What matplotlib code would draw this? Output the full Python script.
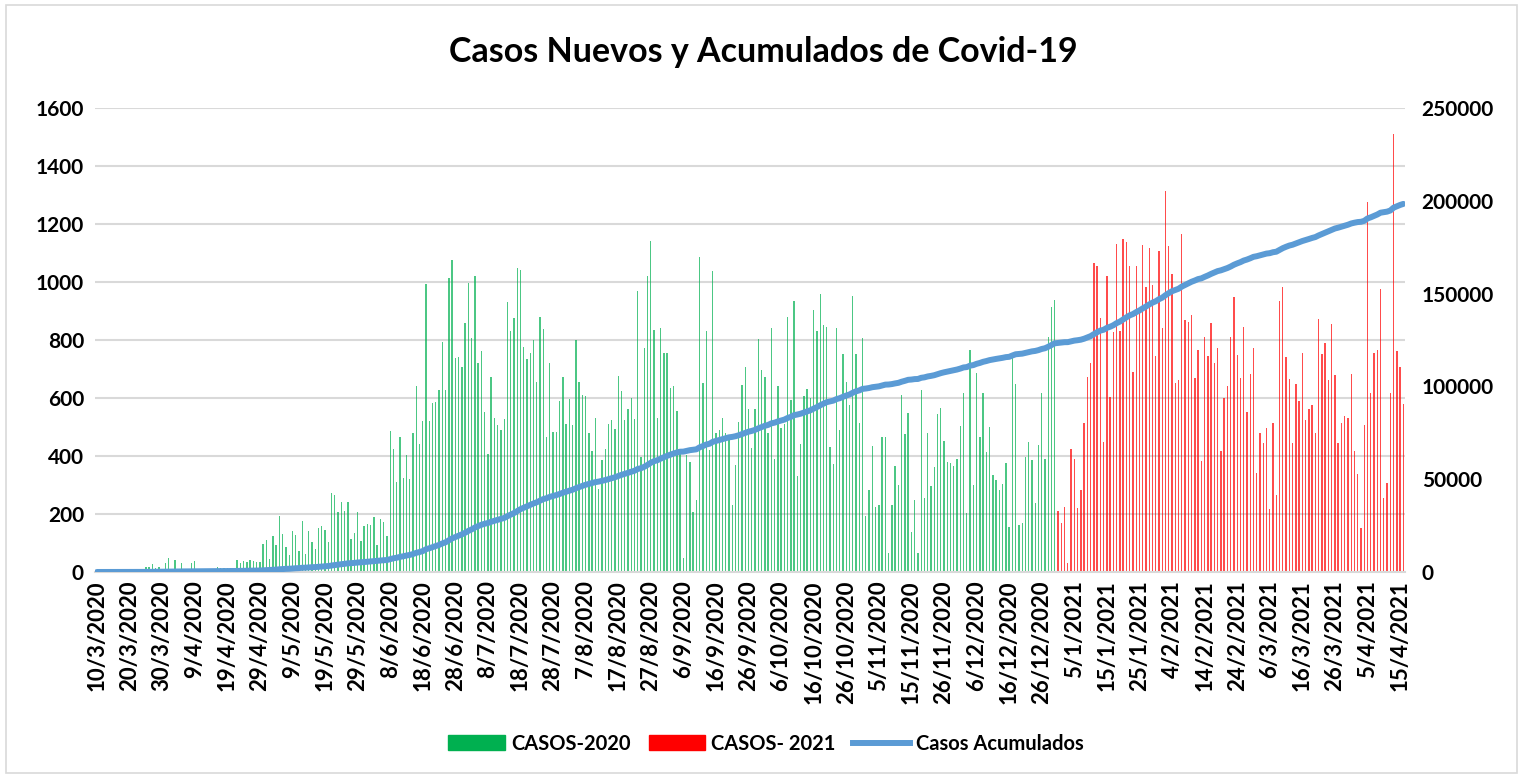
import matplotlib
matplotlib.use("Agg")
import matplotlib.pyplot as plt
import numpy as np
import pandas as pd
from matplotlib.patches import Patch, Rectangle
from matplotlib.lines import Line2D

# daily new cases
casos_2020 = [
    2, 0, 0, 0, 1, 3, 0, 6, 3, 5, 2, 2, 1, 4, 2, 16, 16, 29, 15, 18,
    8, 32, 48, 7, 41, 10, 31, 12, 9, 32, 38, 10, 7, 5, 9, 5, 8, 16, 14, 14,
    14, 14, 10, 41, 30, 37, 34, 40, 37, 33, 33, 97, 110, 46, 124, 93, 192, 131, 86, 59,
    141, 129, 74, 175, 62, 141, 105, 80, 153, 157, 145, 105, 271, 265, 207, 240, 211, 240, 113, 134,
    207, 108, 160, 166, 163, 191, 93, 184, 172, 124, 486, 425, 309, 464, 324, 403, 321, 479, 643, 440,
    520, 992, 520, 584, 586, 628, 794, 628, 1013, 1075, 737, 740, 706, 857, 995, 806, 1021, 721, 763, 551,
    407, 671, 530, 507, 490, 526, 930, 832, 877, 1048, 1041, 776, 734, 755, 801, 656, 879, 837, 466, 720,
    484, 484, 589, 672, 511, 597, 507, 799, 656, 610, 607, 480, 418, 531, 287, 385, 424, 511, 523, 493,
    676, 625, 523, 561, 601, 528, 968, 397, 772, 1020, 1140, 836, 530, 840, 754, 754, 633, 641, 554, 409,
    49, 405, 380, 207, 248, 1087, 652, 832, 420, 1039, 480, 490, 530, 480, 455, 230, 370, 518, 646, 708,
    561, 429, 561, 802, 697, 672, 480, 840, 391, 641, 498, 511, 878, 592, 934, 332, 440, 606, 631, 601,
    902, 830, 958, 850, 845, 431, 374, 841, 489, 752, 656, 577, 950, 750, 515, 807, 193, 282, 434, 223,
    231, 467, 467, 64, 231, 366, 300, 610, 477, 547, 138, 248, 64, 628, 256, 480, 297, 361, 545, 564,
    452, 379, 375, 366, 389, 503, 616, 202, 764, 300, 685, 467, 616, 415, 501, 334, 317, 283, 302, 375,
    156, 737, 647, 162, 168, 397, 449, 386, 237, 438, 616, 389, 809, 915, 938,
]
casos_2021 = [
    211, 168, 223, 30, 425, 391, 220, 283, 515, 674, 720, 1064, 1055, 875, 449,
    1021, 605, 826, 1130, 830, 1147, 1138, 1056, 691, 1056, 898, 1126, 984, 1118, 990,
    745, 1108, 840, 1313, 1124, 1029, 652, 662, 1166, 870, 862, 886, 670, 764, 384,
    811, 745, 857, 721, 774, 418, 601, 643, 810, 948, 748, 668, 844, 551, 682,
    774, 343, 478, 444, 495, 216, 515, 266, 934, 984, 743, 664, 446, 648, 590,
    756, 524, 561, 576, 480, 871, 751, 789, 662, 854, 679, 446, 515, 539, 530,
    683, 417, 338, 152, 507, 1277, 617, 754, 766, 976, 256, 306, 617, 1510, 762,
    708, 578,
]

# category dates (one November date is missing in the source sheet)
fechas = pd.date_range("2020-03-10", "2021-04-16")
fechas = fechas[fechas != pd.Timestamp("2020-11-20")]
etiquetas = [f"{d.day}/{d.month}/{d.year}" for d in fechas]

n20 = len(casos_2020)
n21 = len(casos_2021)
x20 = np.arange(n20)
x21 = np.arange(n20, n20 + n21)
acumulados = np.cumsum(casos_2020 + casos_2021)
xall = np.arange(n20 + n21)

fig = plt.figure(figsize=(15.23, 7.78), dpi=100)
fig.patches.append(Rectangle((0.004, 0.006), 0.992, 0.988, transform=fig.transFigure,
                             fill=False, edgecolor="#D9D9D9", linewidth=1.2))
ax = fig.add_axes([0.0624, 0.2648, 0.8601, 0.5964])
ax2 = ax.twinx()

ax.bar(x20, casos_2020, width=0.42, color="#00B050", alpha=0.7, linewidth=0)
ax.bar(x21, casos_2021, width=0.42, color="#FF0000", alpha=0.7, linewidth=0)
ax2.plot(xall, acumulados, color="#5B9BD5", linewidth=4.3, solid_capstyle="round")

ax.set_ylim(0, 1600)
ax.set_yticks(np.arange(0, 1601, 200))
ax2.set_ylim(0, 250000)
ax2.set_yticks(np.arange(0, 250001, 50000))
ax.set_xlim(-0.6, n20 + n21 - 0.5)

ticks = list(range(0, len(etiquetas), 10))
ax.set_xticks(ticks)
ax.set_xticklabels([etiquetas[i] for i in ticks], rotation=90)

fnt = "Lato"
for a in (ax, ax2):
    for s in a.spines.values():
        s.set_visible(False)
    a.tick_params(length=0)
ax.spines["bottom"].set_visible(True)
ax.spines["bottom"].set_color("#D9D9D9")
ax.spines["bottom"].set_linewidth(1.5)
ax.set_axisbelow(True)
ax.yaxis.grid(True, color="#D9D9D9", linewidth=1.5)
ax.tick_params(axis="y", pad=8)
ax.tick_params(axis="x", pad=6)
ax2.tick_params(axis="y", pad=12)
for lbl in ax.get_yticklabels() + ax2.get_yticklabels():
    lbl.set_fontfamily(fnt)
    lbl.set_fontweight("bold")
    lbl.set_fontsize(15)
for lbl in ax.get_xticklabels():
    lbl.set_fontfamily(fnt)
    lbl.set_fontweight("bold")
    lbl.set_fontsize(16)

fig.text(0.501, 0.933, "Casos Nuevos y Acumulados de Covid-19", ha="center", va="center",
         fontsize=24.5, fontweight="bold", family=fnt)

handles = [Patch(color="#00B050"), Patch(color="#FF0000"),
           Line2D([], [], color="#5B9BD5", linewidth=4.3)]
fig.legend(handles, ["CASOS-2020", "CASOS- 2021", "Casos Acumulados"], loc="center",
           bbox_to_anchor=(0.503, 0.044), ncol=3, frameon=False, handlelength=2.8,
           handleheight=0.75, columnspacing=0.9, handletextpad=0.3,
           prop={"family": fnt, "weight": "bold", "size": 14.5})

fig.savefig("out.png", dpi=100)
